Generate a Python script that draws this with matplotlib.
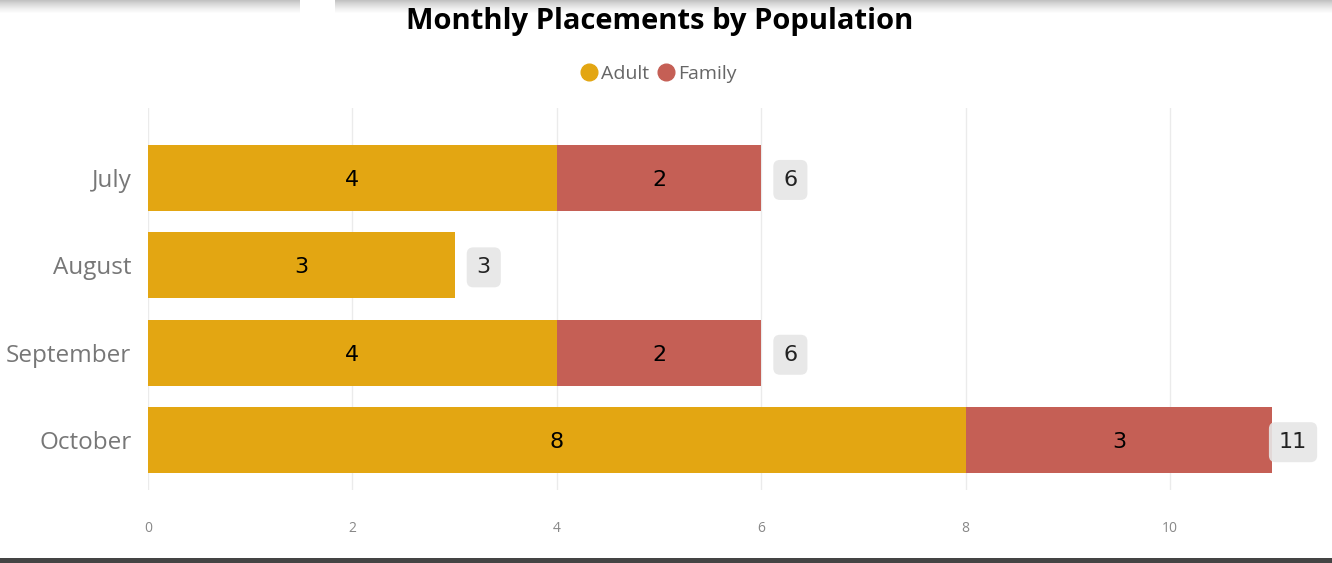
import numpy as np
import matplotlib.pyplot as plt
from matplotlib.patches import Rectangle

months = ['July', 'August', 'September', 'October']
adult = [4, 3, 4, 8]
family = [2, 0, 2, 3]
series_names = ['Adult', 'Family']
colors = ['#E3A612', '#C55F55']
x_ticks = [0, 2, 4, 6, 8, 10]

fig = plt.figure(figsize=(13.32, 5.63), dpi=100)
ax = fig.add_axes([148 / 1332, 73 / 563, 1172 / 1332, 382 / 563])

y = np.arange(len(months))
adult = np.array(adult)
family = np.array(family)
totals = adult + family

ax.barh(y, adult, height=0.755, color=colors[0], label=series_names[0], zorder=2)
ax.barh(y, family, left=adult, height=0.755, color=colors[1], label=series_names[1], zorder=2)

# segment labels
for i in range(len(months)):
    ax.text(adult[i] / 2, y[i], str(adult[i]), ha='center', va='center_baseline',
            fontsize=16, family='DejaVu Sans', color='black', zorder=3)
    if family[i] > 0:
        ax.text(adult[i] + family[i] / 2, y[i], str(family[i]), ha='center', va='center_baseline',
                fontsize=16, family='DejaVu Sans', color='black', zorder=3)
    # total label in grey rounded box (pulled in a bit when it hits the edge)
    off = 21 if totals[i] < 11 else 15
    ax.annotate(str(totals[i]), (totals[i], y[i]), xytext=(off, 0), textcoords='offset points',
                ha='center', va='center_baseline', fontsize=16, color='#222222', zorder=4,
                bbox=dict(boxstyle='round,pad=0.45,rounding_size=0.3', fc='#E6E6E6', ec='none', alpha=0.9))

ax.set_xlim(0, 1172 / 102.2)
ax.set_ylim(3.57, -0.8)
ax.set_xticks(x_ticks)
ax.set_xticklabels([str(t) for t in x_ticks], fontsize=10, color='#888888', family='Open Sans')
ax.set_yticks(y)
ax.set_yticklabels(months, fontsize=17.5, color='#777777', family='Open Sans')
ax.tick_params(axis='both', length=0)
ax.tick_params(axis='x', pad=22)
ax.tick_params(axis='y', pad=12)
ax.grid(axis='x', color='#EBEBEB', linewidth=1, zorder=0)
for s in ax.spines.values():
    s.set_visible(False)

fig.text(660 / 1332, 1 - 22 / 563, 'Monthly Placements by Population', ha='center', va='center',
         fontsize=21, fontweight='bold', family='Open Sans', color='black')

leg = fig.legend(handles=[
    plt.Line2D([], [], marker='o', linestyle='', markersize=12, color=colors[0]),
    plt.Line2D([], [], marker='o', linestyle='', markersize=12, color=colors[1])],
    labels=series_names, loc='center', bbox_to_anchor=(657 / 1332, 1 - 74 / 563), ncol=2,
    frameon=False, handletextpad=0.0, columnspacing=0.3, handlelength=1.2,
    prop={'family': 'Open Sans', 'size': 14})
for t in leg.get_texts():
    t.set_color('#666666')

# soft shadow along the top edge
grad = np.linspace(0.35, 0, 14).reshape(-1, 1)
for x0, x1 in [(0, 300), (335, 1332)]:
    sh = fig.add_axes([x0 / 1332, 1 - 14 / 563, (x1 - x0) / 1332, 14 / 563], zorder=-1)
    sh.imshow(grad, cmap='Greys', vmin=0, vmax=1, aspect='auto', interpolation='bilinear')
    sh.axis('off')

# bottom border line
fig.patches.append(Rectangle((0, 0), 1, 5 / 563, transform=fig.transFigure,
                             facecolor='#444444', edgecolor='none'))

fig.savefig('out.png', dpi=100)
